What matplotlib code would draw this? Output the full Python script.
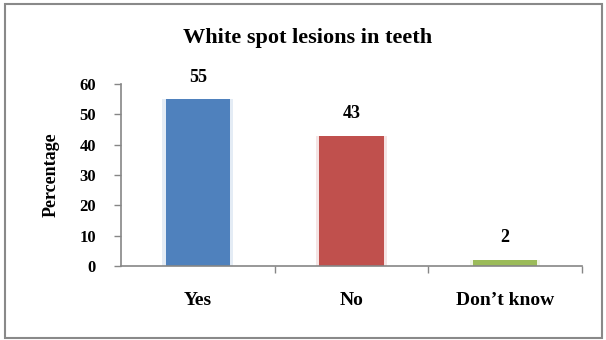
import matplotlib
matplotlib.use("Agg")
from matplotlib import pyplot as plt
from matplotlib.patches import Rectangle

# Survey answers on white spot lesions
categories = ["Yes", "No", "Don\u2019t know"]
percentages = [55, 43, 2]
bar_colors = ["#4F81BD", "#C0504D", "#9BBB59"]
y_ticks = [0, 10, 20, 30, 40, 50, 60]

plt.rcParams["font.family"] = ["Liberation Serif", "DejaVu Serif"]
plt.rcParams["font.weight"] = "bold"

fig = plt.figure(figsize=(6.06, 3.40), dpi=100)
ax = fig.add_axes([0.1997, 0.2176, 0.7603, 0.5353])

x = range(len(categories))
# faint halo behind each bar for the soft edge
ax.bar(x, percentages, width=0.46, color=bar_colors, alpha=0.15, zorder=1)
ax.bar(x, percentages, width=0.42, color=bar_colors, zorder=2)

for i, v in enumerate(percentages):
    ax.text(i, v + 7.3, str(v), ha="center", va="center",
            fontsize=13, fontweight="bold")

ax.set_xlim(-0.5, len(categories) - 0.5)
ax.set_ylim(0, 60)
ax.set_yticks(y_ticks)
ax.set_xticks(x)
ax.set_xticklabels(categories, fontsize=14, fontweight="bold")
ax.set_xticks([0.5, 1.5, 2.5], minor=True)
ax.tick_params(axis="x", which="major", length=0, pad=19)
ax.tick_params(axis="x", which="minor", length=5, color="#868686", width=1)
ax.tick_params(axis="y", length=5, color="#868686", width=1, labelsize=12, pad=13)
for lbl in ax.get_yticklabels():
    lbl.set_fontweight("bold")

for side in ["top", "right"]:
    ax.spines[side].set_visible(False)
for side in ["left", "bottom"]:
    ax.spines[side].set_color("#868686")
    ax.spines[side].set_linewidth(1.2)

ax.set_ylabel("Percentage", fontsize=13, fontweight="bold", labelpad=14)
fig.text(0.507, 0.888, "White spot lesions in teeth", ha="center", va="center",
         fontsize=16, fontweight="bold")

# outer frame around the chart area
fig.patches.append(Rectangle((0.008, 0.006), 0.986, 0.982, transform=fig.transFigure,
                             fill=False, edgecolor="#898989", linewidth=1.5))

fig.savefig("out.png", dpi=100)
